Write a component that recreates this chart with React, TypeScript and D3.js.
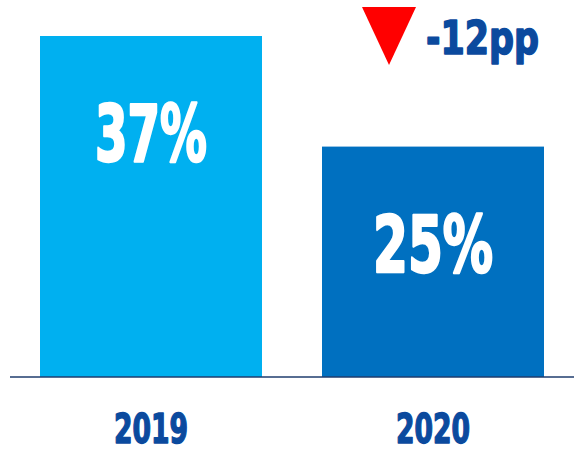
import React from "react";
import * as d3 from "d3";

const categories: string[] = ["2019", "2020"];
const values: number[] = [37, 25];
const valueLabels: string[] = ["37%", "25%"];
const deltaLabel = `${values[1] - values[0]}pp`;

const W = 584;
const H = 453;
const baseY = 377;
const FONT = "'Liberation Sans Narrow', 'DejaVu Sans Condensed', 'Liberation Sans', 'DejaVu Sans', sans-serif";
const barColors = ["#00B0F0", "#0070C0"];
const textBlue = "#0B4A9E";

// measured text widths (style)
const valueWidths = [112, 120];
const catWidth = 74;

export default function App() {
  const x = d3
    .scaleBand<string>()
    .domain(categories)
    .range([10, 574])
    .paddingInner(0.2128)
    .paddingOuter(0.1064);
  const y = d3.scaleLinear().domain([0, 37]).range([baseY, 36]);

  const bx2 = x(categories[1])!;
  const triLeft = bx2 + 40;
  const triPath = d3.path();
  triPath.moveTo(triLeft, 7);
  triPath.lineTo(triLeft + 54, 7);
  triPath.lineTo(triLeft + 27, 65);
  triPath.closePath();

  return (
    <svg
      width={W}
      height={H}
      style={{ position: "absolute", left: 0, top: 0, background: "#fff" }}
    >
      {categories.map((c, i) => (
        <g key={c}>
          <rect
            x={x(c)!}
            y={y(values[i])}
            width={x.bandwidth()}
            height={baseY - y(values[i])}
            fill={barColors[i]}
          />
          <text
            x={x(c)! + x.bandwidth() / 2}
            y={y(values[i]) + 125}
            textAnchor="middle"
            fontFamily={FONT}
            fontWeight="bold"
            fontSize={78}
            fill="#fff"
            stroke="#fff"
            strokeWidth={2.5}
            strokeLinejoin="round"
            textLength={valueWidths[i]}
            lengthAdjust="spacingAndGlyphs"
          >
            {valueLabels[i]}
          </text>
          <text
            x={x(c)! + x.bandwidth() / 2}
            y={443}
            textAnchor="middle"
            fontFamily={FONT}
            fontWeight="bold"
            fontSize={40}
            fill={textBlue}
            stroke={textBlue}
            strokeWidth={1.4}
            strokeLinejoin="round"
            textLength={catWidth}
            lengthAdjust="spacingAndGlyphs"
          >
            {c}
          </text>
        </g>
      ))}
      <line x1={10} x2={574} y1={baseY} y2={baseY} stroke="#1F3C6E" strokeWidth={1.3} />
      <path d={triPath.toString()} fill="#FF0000" />
      <text
        x={triLeft + 64}
        y={54}
        fontFamily={FONT}
        fontWeight="bold"
        fontSize={47}
        fill={textBlue}
        stroke={textBlue}
        strokeWidth={1.6}
        strokeLinejoin="round"
        textLength={113}
        lengthAdjust="spacingAndGlyphs"
      >
        {deltaLabel}
      </text>
    </svg>
  );
}
